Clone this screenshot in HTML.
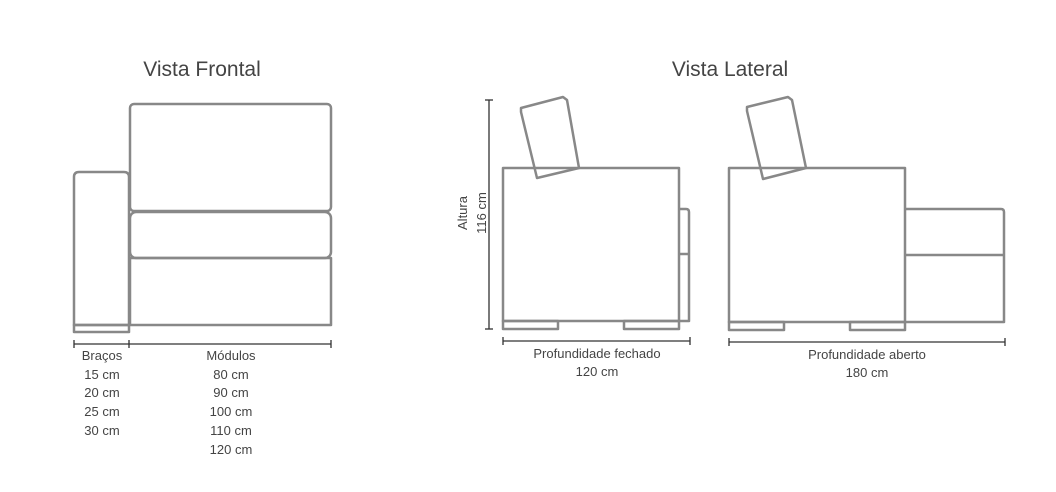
<!DOCTYPE html>
<html><head><meta charset="utf-8"><style>
html,body{margin:0;padding:0;background:#fff;}
svg{display:block}
text{font-family:"Liberation Sans",sans-serif;fill:#444;}
</style></head><body>
<svg width="1056" height="492" viewBox="0 0 1056 492" xmlns="http://www.w3.org/2000/svg">
<g fill="none" stroke="#888" stroke-width="2.5" stroke-linejoin="round">
<!-- Front view -->
<path d="M129,325 L74,325 L74,177 Q74,172 79,172 L124,172 Q129,172 129,177 Z"/>
<rect x="74" y="325" width="55" height="7"/>
<rect x="130" y="104" width="201" height="107" rx="4"/>
<rect x="130" y="212" width="201" height="46" rx="6"/>
<rect x="130" y="258" width="201" height="67"/>
<!-- Lateral closed -->
<polygon points="521,108 563,97 567,100 579,168 537,178 521,112"/>
<rect x="503" y="168" width="176" height="153"/>
<rect x="503" y="321" width="55" height="8"/>
<rect x="624" y="321" width="55" height="8"/>
<path d="M679,209 L686,209 Q689,209 689,212 L689,321 L679,321"/>
<line x1="679" y1="254" x2="689" y2="254"/>
<!-- Lateral open -->
<polygon points="747,107 788,97 792,100 806,168 763,179 747,111"/>
<rect x="729" y="168" width="176" height="154"/>
<rect x="729" y="322" width="55" height="8"/>
<rect x="850" y="322" width="55" height="8"/>
<path d="M905,209 L1001,209 Q1004,209 1004,212 L1004,322 L905,322"/>
<line x1="905" y1="255" x2="1004" y2="255"/>
</g>
<g stroke="#333" stroke-width="1.3" fill="none">
<line x1="74" y1="344" x2="331" y2="344"/>
<line x1="74" y1="340" x2="74" y2="348"/>
<line x1="129" y1="340" x2="129" y2="348"/>
<line x1="331" y1="340" x2="331" y2="348"/>
<line x1="503" y1="341" x2="690" y2="341"/>
<line x1="503" y1="337" x2="503" y2="345"/>
<line x1="690" y1="337" x2="690" y2="345"/>
<line x1="729" y1="342" x2="1005" y2="342"/>
<line x1="729" y1="338" x2="729" y2="346"/>
<line x1="1005" y1="338" x2="1005" y2="346"/>
<line x1="489" y1="100" x2="489" y2="329"/>
<line x1="485" y1="100" x2="493" y2="100"/>
<line x1="485" y1="329" x2="493" y2="329"/>
</g>
<text x="202" y="76" font-size="21" text-anchor="middle" fill="#333">Vista Frontal</text>
<text x="730" y="76" font-size="21" text-anchor="middle" fill="#333">Vista Lateral</text>
<g font-size="13" text-anchor="middle">
<text x="102" y="360">Braços</text>
<text x="102" y="379">15 cm</text>
<text x="102" y="397">20 cm</text>
<text x="102" y="416">25 cm</text>
<text x="102" y="435">30 cm</text>
<text x="231" y="360">Módulos</text>
<text x="231" y="379">80 cm</text>
<text x="231" y="397">90 cm</text>
<text x="231" y="416">100 cm</text>
<text x="231" y="435">110 cm</text>
<text x="231" y="454">120 cm</text>
<text x="597" y="358">Profundidade fechado</text>
<text x="597" y="376">120 cm</text>
<text x="867" y="359">Profundidade aberto</text>
<text x="867" y="377">180 cm</text>
<text transform="translate(467,213) rotate(-90)">Altura</text>
<text transform="translate(486,213) rotate(-90)">116 cm</text>
</g>
</svg>
</body></html>
